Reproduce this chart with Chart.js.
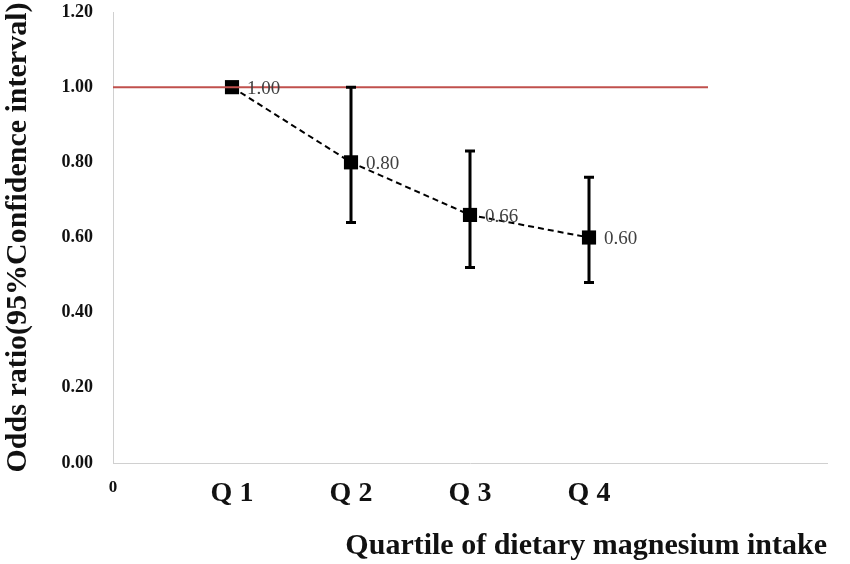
<!DOCTYPE html>
<html>
<head>
<meta charset="utf-8">
<script src="https://cdn.jsdelivr.net/npm/chart.js@4.4.1/dist/chart.umd.min.js"></script>
<style>
  body { margin: 0; background: #fff; }
  #wrap { width: 850px; height: 564px; }
</style>
</head>
<body>
<div id="wrap"><canvas id="myChart"></canvas></div>
<script>
// quartile positions on the x axis and their labels
var xTickValues = [0, 1, 2, 3, 4];
var xTickLabels = ['0', 'Q 1', 'Q 2', 'Q 3', 'Q 4'];

var quartilePos = [1, 2, 3, 4];
var oddsRatio = [1.00, 0.80, 0.66, 0.60];
var ciLower = [null, 0.64, 0.52, 0.48];
var ciUpper = [null, 1.00, 0.83, 0.76];
var oddsLabels = ['1.00', '0.80', '0.66', '0.60'];

// reference line OR = 1
var refLineX = [0, 5];
var refLineY = [1, 1];

var serif = '"Liberation Serif", "Times New Roman", serif';

// error bars + value labels
var errorBarPlugin = {
    id: 'errorBars',
    afterDatasetsDraw: function(chart) {
        var ctx = chart.ctx;
        var xs = chart.scales.x, ys = chart.scales.y;
        ctx.save();
        ctx.strokeStyle = '#000';
        ctx.lineWidth = 3;
        for (var i = 0; i < quartilePos.length; i++) {
            if (ciLower[i] == null) continue;
            var x = xs.getPixelForValue(quartilePos[i]);
            var lo = ys.getPixelForValue(ciLower[i]);
            var hi = ys.getPixelForValue(ciUpper[i]);
            ctx.beginPath();
            ctx.moveTo(x, lo); ctx.lineTo(x, hi);
            ctx.moveTo(x - 5, lo); ctx.lineTo(x + 5, lo);
            ctx.moveTo(x - 5, hi); ctx.lineTo(x + 5, hi);
            ctx.stroke();
        }
        var meta = chart.getDatasetMeta(1);
        ctx.fillStyle = '#404040';
        ctx.font = '19px ' + serif;
        ctx.textAlign = 'left';
        ctx.textBaseline = 'middle';
        meta.data.forEach(function(pt, i) {
            ctx.fillText(oddsLabels[i], pt.x + 15, pt.y + 2);
        });
        ctx.restore();
    }
};

var ctx = document.getElementById('myChart').getContext('2d');
var myChart = new Chart(ctx, {
    type: 'line',
    data: {
        datasets: [{
            label: 'reference',
            data: refLineX.map(function(x, i) { return {x: x, y: refLineY[i]}; }),
            borderColor: '#c0504d',
            borderWidth: 2,
            pointRadius: 0,
            fill: false
        }, {
            label: 'OR',
            data: quartilePos.map(function(x, i) { return {x: x, y: oddsRatio[i]}; }),
            borderColor: '#000',
            backgroundColor: '#000',
            borderWidth: 2,
            borderDash: [6, 4],
            pointStyle: 'rect',
            pointRadius: 10,
            pointBorderWidth: 0,
            fill: false,
            lineTension: 0
        }]
    },
    options: {
        responsive: true,
        maintainAspectRatio: false,
        animation: false,
        layout: { padding: { top: 0, right: 23, left: 0, bottom: 0 } },
        plugins: {
            legend: { display: false },
            tooltip: { enabled: false }
        },
        scales: {
            x: {
                type: 'linear',
                min: 0,
                max: 6,
                afterBuildTicks: function(scale) {
                    scale.ticks = xTickValues.map(function(v) { return {value: v}; });
                },
                afterFit: function(scale) { scale.height = 101; },
                grid: { display: false, drawTicks: false },
                border: { display: true, color: '#d0d0d0', width: 1 },
                ticks: {
                    color: '#111',
                    padding: 14,
                    autoSkip: false,
                    maxRotation: 0,
                    callback: function(v) {
                        var k = xTickValues.indexOf(v);
                        return k >= 0 ? xTickLabels[k] : '';
                    },
                    font: function(c) {
                        if (c.tick && c.tick.value === 0) {
                            return { family: serif, size: 17, weight: 'bold' };
                        }
                        return { family: serif, size: 28, weight: 'bold' };
                    }
                },
                title: {
                    display: true,
                    text: 'Quartile of dietary magnesium intake',
                    align: 'end',
                    color: '#111',
                    font: { family: serif, size: 30, weight: 'bold' },
                    padding: { top: 8, bottom: 0 }
                }
            },
            y: {
                min: 0,
                max: 1.2,
                afterFit: function(scale) {
                    scale.width = 113;
                    scale.paddingTop = 12;
                    scale.paddingBottom = 0;
                },
                grid: { display: false, drawTicks: false },
                border: { display: true, color: '#d0d0d0', width: 1 },
                ticks: {
                    stepSize: 0.2,
                    color: '#111',
                    padding: 20,
                    font: { family: serif, size: 18, weight: 'bold' },
                    callback: function(v) { return v.toFixed(2); }
                },
                title: {
                    display: true,
                    text: 'Odds ratio(95%Confidence interval)',
                    color: '#111',
                    font: { family: serif, size: 30, weight: 'bold' },
                    padding: { top: 0, bottom: 0 }
                }
            }
        }
    },
    plugins: [errorBarPlugin]
});
</script>
</body>
</html>
